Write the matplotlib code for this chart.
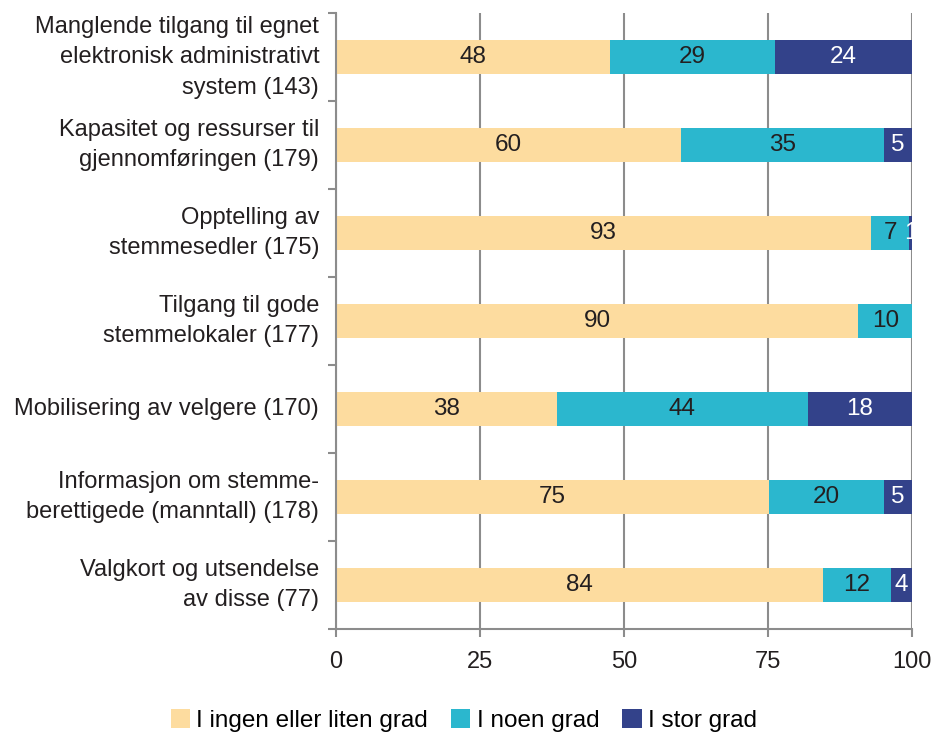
import matplotlib.pyplot as plt
import numpy as np

plt.rcParams['font.family'] = ['Liberation Sans', 'DejaVu Sans']

categories = [
    "Manglende tilgang til egnet\nelektronisk administrativt\nsystem (143)",
    "Kapasitet og ressurser til\ngjennomføringen (179)",
    "Opptelling av\nstemmesedler (175)",
    "Tilgang til gode\nstemmelokaler (177)",
    "Mobilisering av velgere (170)",
    "Informasjon om stemme-\nberettigede (manntall) (178)",
    "Valgkort og utsendelse\nav disse (77)",
]
series_names = ["I ingen eller liten grad", "I noen grad", "I stor grad"]

# bar lengths (percent)
ingen = [47.6, 59.9, 92.9, 90.7, 38.4, 75.2, 84.5]
noen = [28.6, 35.2, 6.6, 9.3, 43.5, 19.9, 11.9]
stor = [23.8, 4.9, 0.5, 0.0, 18.1, 4.9, 3.6]

# printed labels in the bars
ingen_lbl = [48, 60, 93, 90, 38, 75, 84]
noen_lbl = [29, 35, 7, 10, 44, 20, 12]
stor_lbl = [24, 5, 1, None, 18, 5, 4]

colors = ["#FDDC9F", "#2BB7CE", "#33428A"]
text_colors = ["#231F20", "#231F20", "white"]
grey = "#8C8C8C"
fs = 17

fig = plt.figure(figsize=(9.33, 7.35), dpi=100)
ax = fig.add_axes([0.360, 0.1442, 0.6175, 0.8381])

y = np.arange(len(categories))
left = np.zeros(len(categories))
for vals, lbls, col, tc, name in zip([ingen, noen, stor], [ingen_lbl, noen_lbl, stor_lbl],
                                     colors, text_colors, series_names):
    vals = np.array(vals)
    ax.barh(y, vals, left=left, height=0.39, color=col, label=name, zorder=2)
    for i in range(len(y)):
        if lbls[i] is not None:
            ax.text(left[i] + vals[i] / 2, y[i], str(lbls[i]), ha="center", va="center",
                    fontsize=17.5, color=tc, zorder=3)
    left = left + vals

ax.set_xlim(0, 100)
ax.set_ylim(len(categories) - 0.5, -0.5)
ax.set_xticks([0, 25, 50, 75, 100])
ax.set_yticks(y)
ax.set_yticklabels(categories, fontsize=fs, linespacing=1.5, color="#231F20")
for lbl in ax.get_yticklabels():
    lbl.set_va("center")
ax.set_yticks(np.arange(-0.5, len(categories), 1), minor=True)
ax.tick_params(axis="y", which="major", length=0, pad=12)
ax.tick_params(axis="y", which="minor", length=6, width=1.5, color=grey)
ax.tick_params(axis="x", length=6, width=1.5, color=grey, labelsize=fs, pad=10,
               labelcolor="#231F20")

ax.xaxis.grid(True, color=grey, linewidth=1.5, zorder=0)
ax.set_axisbelow(True)
for s in ["top", "right"]:
    ax.spines[s].set_visible(False)
for s in ["left", "bottom"]:
    ax.spines[s].set_color(grey)
    ax.spines[s].set_linewidth(1.5)

fig.legend(loc="lower center", bbox_to_anchor=(0.497, -0.026), ncol=3, frameon=False,
           fontsize=17.5, handlelength=0.8, handleheight=0.8, handletextpad=0.25,
           columnspacing=0.95)

fig.savefig("out.png", dpi=100)
